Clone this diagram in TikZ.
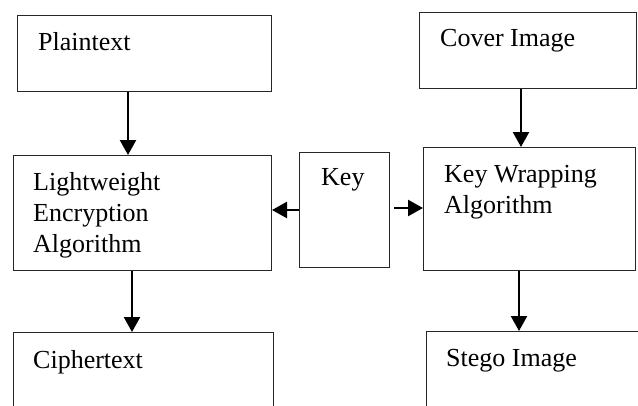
\documentclass[tikz,border=0pt]{standalone}
\usepackage{fontspec}
\setmainfont{Liberation Serif}
\usetikzlibrary{arrows.meta}
\begin{document}
\begin{tikzpicture}[x=1pt,y=-1pt,
  box/.style={draw=black!85, line width=1pt, rectangle, inner sep=0pt, anchor=north west},
  lbl/.style={anchor=base west, inner sep=0pt, font=\fontsize{26}{31}\selectfont, align=left},
  arr/.style={line width=2.4pt, -{Triangle[length=15pt,width=16pt]}}]
\clip (0,0) rectangle (638,405);
\node[box, minimum width=254pt, minimum height=76pt] (pt) at (17,15) {};
\node[box, minimum width=217pt, minimum height=76pt] (cov) at (419,12) {};
\node[box, minimum width=258pt, minimum height=115pt] (lea) at (13,155) {};
\node[box, minimum width=90pt, minimum height=115pt] (key) at (299,152) {};
\node[box, minimum width=212pt, minimum height=123pt] (kwa) at (423,147) {};
\node[box, minimum width=260pt, minimum height=100pt] (cip) at (13,332) {};
\node[box, minimum width=240pt, minimum height=100pt] (steg) at (426,331) {};
\node[lbl] (tpt) at (38,50) {Plaintext};
\node[lbl] (tcov) at (440,46) {Cover Image};
\node[lbl] (tlea) at (33,252) {Lightweight\\Encryption\\Algorithm};
\node[lbl] (tkey) at (321,185) {Key};
\node[lbl] (tkwa) at (444,213) {Key Wrapping\\Algorithm};
\node[lbl] (tcip) at (33,368) {Ciphertext};
\node[lbl] (tsteg) at (446,366) {Stego Image};
\coordinate (c1) at (128,0);
\coordinate (c2) at (521,0);
\coordinate (c3) at (132,0);
\coordinate (c4) at (519,0);
\coordinate (c5) at (0,210);
\coordinate (c6) at (0,208);
\draw[arr] (pt.south -| c1) -- (lea.north -| c1);
\draw[arr] (cov.south -| c2) -- (kwa.north -| c2);
\draw[arr] (lea.south -| c3) -- (cip.north -| c3);
\draw[arr] (kwa.south -| c4) -- (steg.north -| c4);
\draw[arr] (key.west |- c5) -- (lea.east |- c5);
\draw[arr, shorten <=4pt] (key.east |- c6) -- (kwa.west |- c6);
\end{tikzpicture}
\end{document}
